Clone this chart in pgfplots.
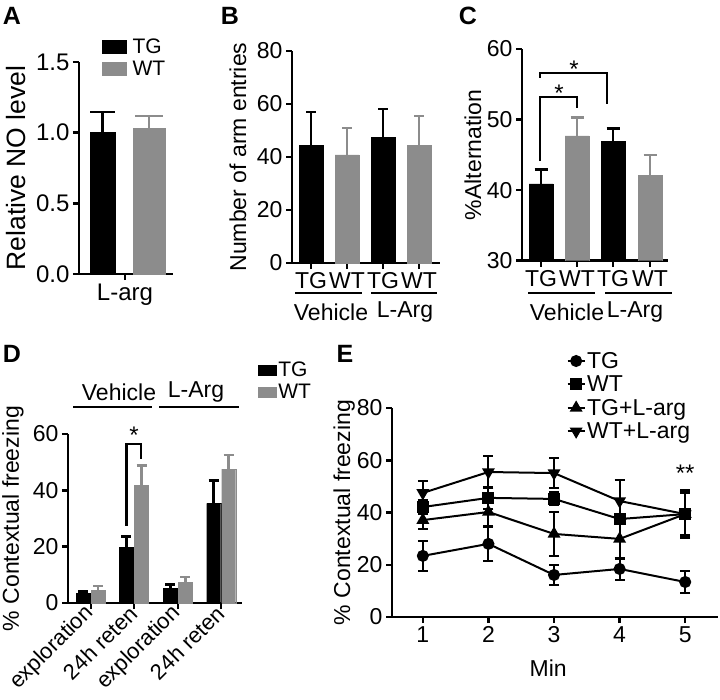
\documentclass[border=0pt]{standalone}
\usepackage{fontspec}
\setmainfont{Liberation Sans}
\usepackage{pgfplots}
\pgfplotsset{compat=1.18}
\definecolor{wtgray}{RGB}{140,140,140}
\newcommand{\fs}[1]{\fontsize{#1}{#1}\selectfont}
\pgfplotsset{
  gp/.style={
    scale only axis, anchor=south west,
    axis x line*=bottom, axis y line*=left,
    axis line style={line width=2.5pt, black},
    tick align=outside,
    major tick length=6pt,
    every tick/.style={line width=2.5pt, black},
    tick label style={font=\fs{23}},
    label style={font=\fs{23}},
    /pgf/number format/assume math mode=true,
    clip mode=individual,
    every axis y label/.style={rotate=90, anchor=center, font=\fs{23}},
    legend cell align=left,
  },
  eb/.style 2 args={error bars/.cd, y dir=plus, y explicit,
    error bar style={line width=2.5pt, #1},
    error mark options={rotate=90, line width=2.5pt, #1, mark size=#2}, /pgfplots/.cd},
  ebe/.style={error bars/.cd, y dir=both, y explicit,
    error bar style={line width=2pt, black},
    error mark options={rotate=90, line width=2pt, black, mark size=5pt}, /pgfplots/.cd},
}
\begin{document}
\begin{tikzpicture}
\useasboundingbox (0,0) rectangle (720pt,-699pt);
% ---------- A ----------
\begin{axis}[gp, at={(79pt,-274pt)}, width=94pt, height=212pt,
  xmin=0, xmax=94, ymin=0, ymax=1.5, ytick={0,0.5,1,1.5},
  tick label style={font=\fs{24}},
  yticklabel style={/pgf/number format/.cd, fixed, fixed zerofill, precision=1},
  xtick={46}, xticklabels={L-arg},
  ylabel={Relative NO level}, ylabel style={font=\fs{26.5}, at={(axis description cs:-0.67,0.5)}},
  legend style={draw=none, fill=none, at={(axis description cs:0.245,1.12)}, anchor=north west,
    font=\fs{21}, inner sep=0pt, row sep=2pt, nodes={inner sep=2pt},
    /tikz/every odd column/.append style={column sep=4pt}}]
\addplot[ybar, bar shift=0pt, bar width=25pt, fill=black, draw=black,
  legend image code/.code={\fill[black] (0pt,-6.5pt) rectangle (24pt,6.5pt);}, eb={black}{12.5pt}]
  coordinates {(23.5,1.0) +- (0,0.148)};
\addlegendentry{TG}
\addplot[ybar, bar shift=0pt, bar width=32pt, fill=wtgray, draw=wtgray,
  legend image code/.code={\fill[wtgray] (0pt,-6.5pt) rectangle (24pt,6.5pt);}, eb={wtgray}{14pt}]
  coordinates {(70,1.033) +- (0,0.085)};
\addlegendentry{WT}
\end{axis}
% ---------- B ----------
\begin{axis}[gp, at={(292pt,-263pt)}, width=148pt, height=212pt,
  xmin=0, xmax=148, ymin=0, ymax=80, ytick={0,20,...,80},
  xtick={19,55,91,127}, xticklabels={TG,WT,TG,WT},
  ylabel={Number of arm entries}, ylabel style={at={(axis description cs:-0.365,0.5)}}]
\addplot[ybar, bar shift=0pt, bar width=24pt, fill=black, draw=black, eb={black}{5pt}]
  coordinates {(19,44.5) +- (0,12.5) (91,47.5) +- (0,10.6)};
\addplot[ybar, bar shift=0pt, bar width=24pt, fill=wtgray, draw=wtgray, eb={wtgray}{5pt}]
  coordinates {(55,40.8) +- (0,10.2) (127,44.5) +- (0,11.0)};
\end{axis}
\draw[line width=2.5pt] (295pt,-293pt) -- (362pt,-293pt);
\draw[line width=2.5pt] (371pt,-293pt) -- (437pt,-293pt);
\node[font=\fs{23}] at (331pt,-312pt) {Vehicle};
\node[font=\fs{23}] at (405pt,-312pt) {L-Arg};
% ---------- C ----------
\begin{axis}[gp, at={(522pt,-260.7pt)}, width=146pt, height=211.7pt,
  xmin=0, xmax=146, ymin=30, ymax=60, ytick={30,40,50,60},
  xtick={19,55,91,128}, xticklabels={TG,WT,TG,WT},
  ylabel={\%Alternation}, ylabel style={at={(axis description cs:-0.336,0.5)}}]
\addplot[ybar, bar shift=0pt, bar width=24pt, fill=black, draw=black, eb={black}{6.5pt}]
  coordinates {(19,40.9) +- (0,2.0) (91,46.9) +- (0,1.8)};
\addplot[ybar, bar shift=0pt, bar width=24pt, fill=wtgray, draw=wtgray, eb={wtgray}{6.5pt}]
  coordinates {(55,47.7) +- (0,2.6) (128,42.1) +- (0,2.9)};
\draw[line width=2.5pt] (axis cs:18,44.1) -- (axis cs:18,53.2) -- (axis cs:55,53.2) -- (axis cs:55,51.7);
\draw[line width=2.5pt] (axis cs:18,55.9) -- (axis cs:18,56.6) -- (axis cs:85,56.6) -- (axis cs:85,52.2);
\node[font=\fs{24}] at (axis cs:37,53.8) {*};
\node[font=\fs{24}] at (axis cs:52,57.2) {*};
\end{axis}
\draw[line width=2.5pt] (528pt,-293pt) -- (595pt,-293pt);
\draw[line width=2.5pt] (605pt,-293pt) -- (672pt,-293pt);
\node[font=\fs{23}] at (567pt,-312pt) {Vehicle};
\node[font=\fs{23}] at (635pt,-312pt) {L-Arg};
% ---------- D ----------
\begin{axis}[gp, at={(68pt,-603pt)}, width=174pt, height=169pt,
  xmin=0, xmax=174, ymin=0, ymax=60, ytick={0,20,40,60},
  xtick={23,66,110,153}, xticklabels={exploration,24h reten,exploration,24h reten},
  xticklabel style={font=\fs{22}, rotate=45, anchor=east, inner sep=1pt},
  ylabel={\% Contextual freezing}, ylabel style={at={(axis description cs:-0.316,0.5)}},
  legend style={draw=none, fill=none, at={(axis description cs:1.09,1.44)}, anchor=north west,
    font=\fs{21}, inner sep=0pt, row sep=2pt, nodes={inner sep=2pt}}]
\addplot[ybar, bar shift=0pt, bar width=14pt, fill=black, draw=black,
  legend image code/.code={\fill[black] (0pt,-5pt) rectangle (18pt,5pt);}, eb={black}{5pt}]
  coordinates {(15,3.5) +- (0,0.6) (58.3,19.8) +- (0,3.8) (102.3,5.1) +- (0,1.5) (145.7,35.4) +- (0,8.1)};
\addlegendentry{TG}
\addplot[ybar, bar shift=0pt, bar width=14pt, fill=wtgray, draw=wtgray,
  legend image code/.code={\fill[wtgray] (0pt,-5pt) rectangle (18pt,5pt);}, eb={wtgray}{5pt}]
  coordinates {(30,4.5) +- (0,1.6) (73.5,41.8) +- (0,7.1) (117.3,7.4) +- (0,1.8) (160.7,47.5) +- (0,5.0)};
\addlegendentry{WT}
\draw[line width=2.5pt] (axis cs:58.3,27.4) -- (axis cs:58.3,56.5) -- (axis cs:73,56.5) -- (axis cs:73,51.2);
\node[font=\fs{24}] at (axis cs:66,59.5) {*};
\end{axis}
\draw[line width=2.5pt] (73pt,-407pt) -- (152pt,-407pt);
\draw[line width=2.5pt] (159pt,-407pt) -- (239pt,-407pt);
\node[font=\fs{23}] at (119pt,-392pt) {Vehicle};
\node[font=\fs{23}] at (196pt,-392pt) {L-Arg};
% ---------- E ----------
\begin{axis}[gp, at={(392pt,-617pt)}, width=326pt, height=209pt,
  xmin=0.53, xmax=5.5, ymin=0, ymax=80, ytick={0,20,...,80}, xtick={1,2,3,4,5},
  xlabel={Min}, xlabel style={at={(axis description cs:0.479,-0.244)}, anchor=center},
  ylabel={\% Contextual freezing}, ylabel style={at={(axis description cs:-0.147,0.5)}},
  legend style={draw=none, fill=none, at={(axis description cs:0.535,1.275)}, anchor=north west,
    font=\fs{23}, inner sep=0pt, row sep=3pt, nodes={inner sep=1.5pt}}]
\addplot[black, line width=2pt, mark=*, mark size=5pt, ebe]
  coordinates {(1,23.4) +- (0,5.7) (2,28.0) +- (0,6.6) (3,16.1) +- (0,3.7) (4,18.4) +- (0,4.2) (5,13.4) +- (0,4.2)};
\addlegendentry{TG}
\addplot[black, line width=2pt, mark=square*, mark size=5pt, ebe]
  coordinates {(1,42.1) +- (0,2.8) (2,45.6) +- (0,4.2) (3,45.2) +- (0,2.5) (4,37.5) +- (0,2.0) (5,39.4) +- (0,8.6)};
\addlegendentry{WT}
\addplot[black, line width=2pt, mark=triangle*, mark size=5.5pt, ebe]
  coordinates {(1,37.1) +- (0,3.6) (2,40.2) +- (0,5.5) (3,31.8) +- (0,8.4) (4,29.9) +- (0,7.7) (5,39.4) +- (0,8.0)};
\addlegendentry{TG+L-arg}
\addplot[black, line width=2pt, mark=triangle*, mark size=5.5pt, mark options={rotate=180}, ebe]
  coordinates {(1,47.5) +- (0,4.6) (2,55.5) +- (0,6.2) (3,55.1) +- (0,5.9) (4,44.4) +- (0,8.1) (5,39.4) +- (0,9.2)};
\addlegendentry{WT+L-arg}
\node[font=\fs{24}] at (axis cs:5,55.0) {**};
\end{axis}
% ---------- panel letters ----------
\node[font=\fs{25}\bfseries] at (12pt,-16pt) {A};
\node[font=\fs{25}\bfseries] at (230pt,-16pt) {B};
\node[font=\fs{25}\bfseries] at (468pt,-16pt) {C};
\node[font=\fs{25}\bfseries] at (12pt,-354pt) {D};
\node[font=\fs{25}\bfseries] at (345pt,-354pt) {E};
\end{tikzpicture}
\end{document}
